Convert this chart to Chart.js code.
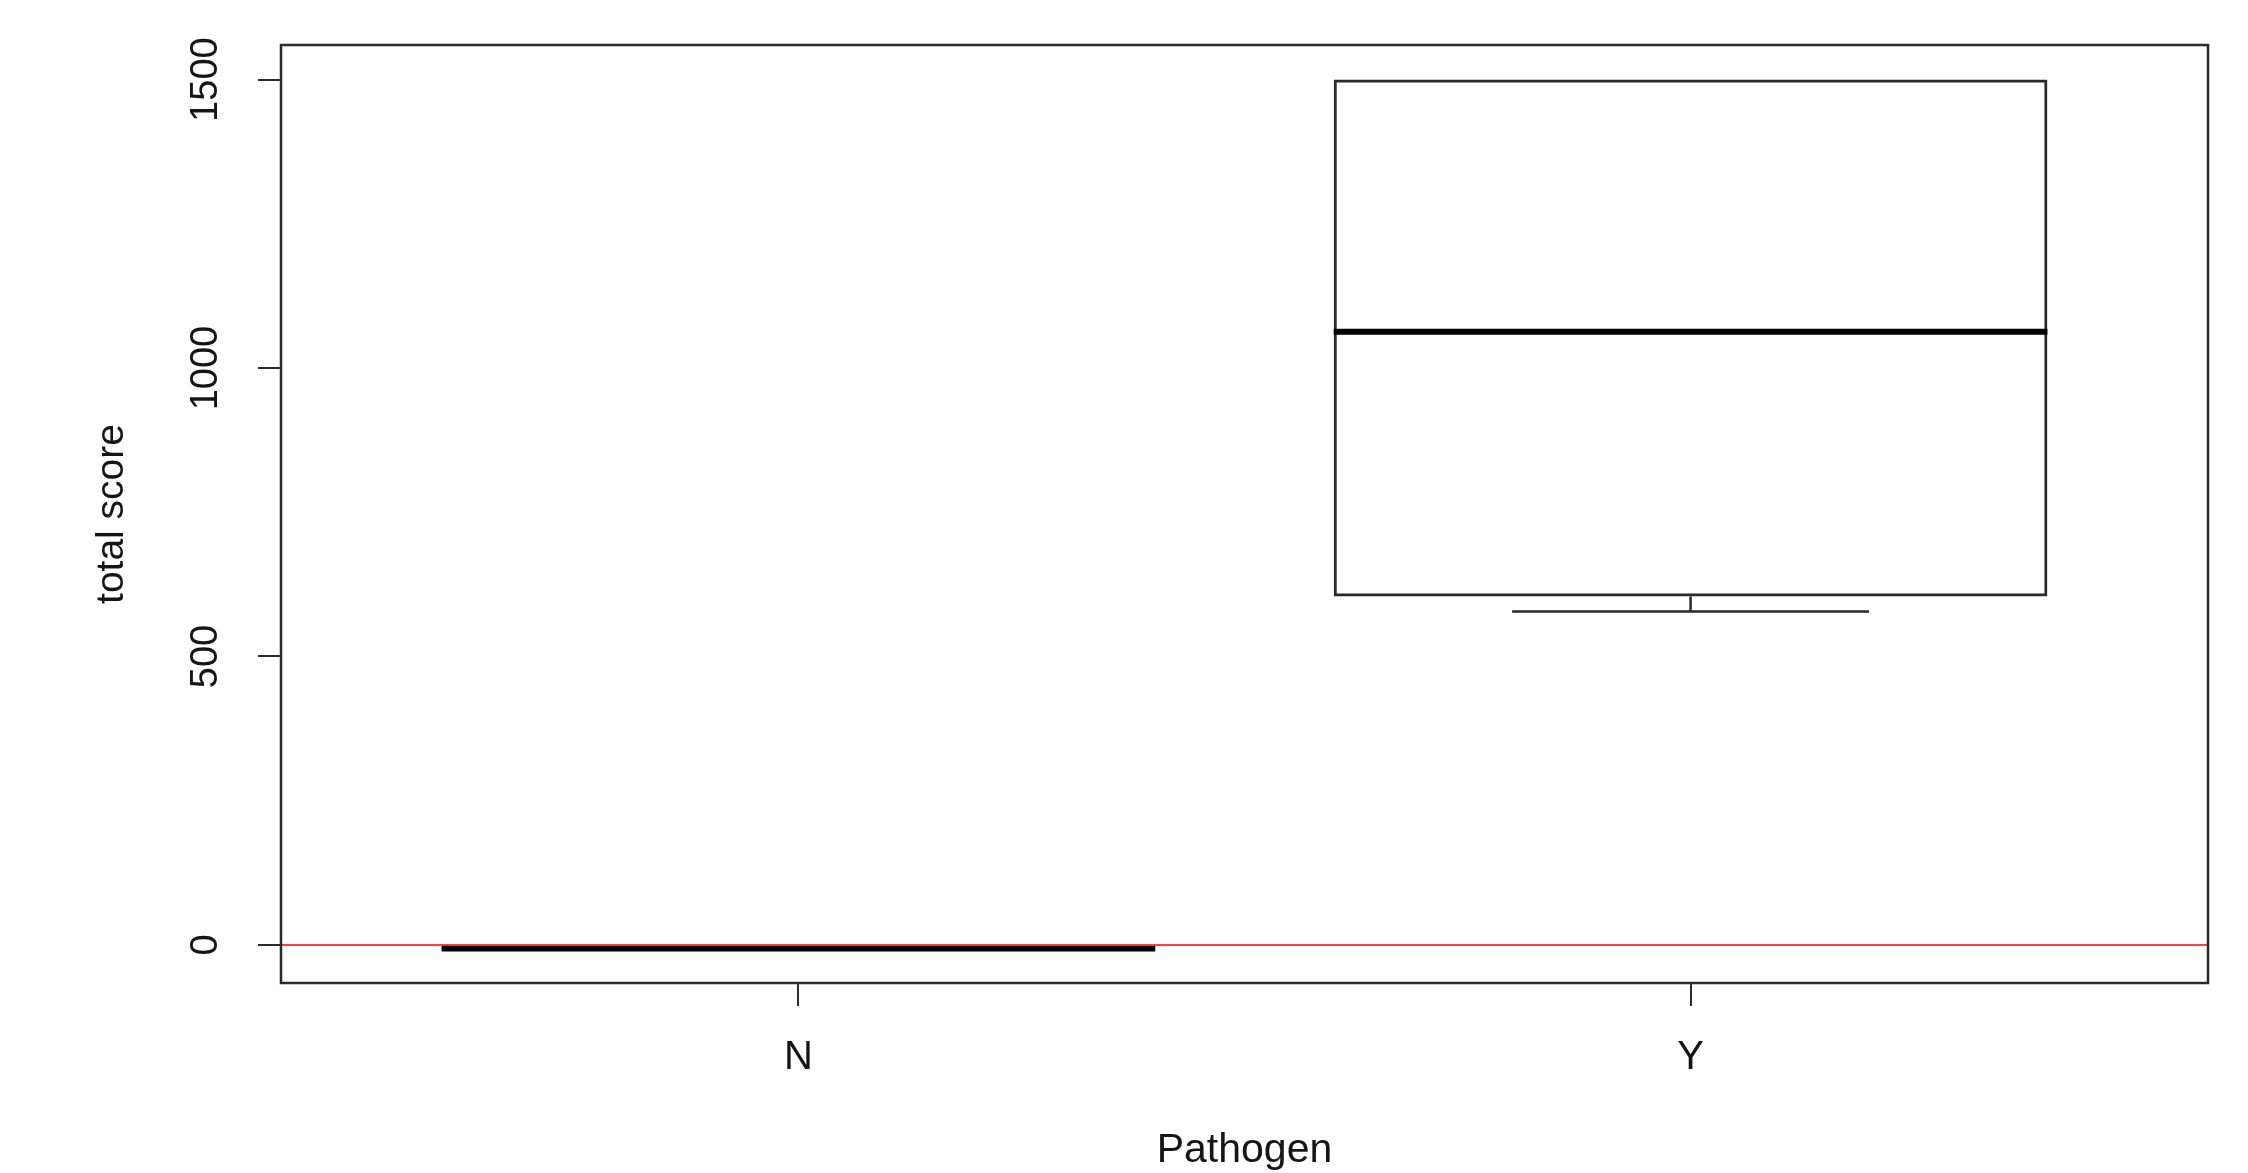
<!DOCTYPE html>
<html>
<head>
<meta charset="utf-8">
<title>total score by Pathogen</title>
<script src="https://cdn.jsdelivr.net/npm/chart.js@4.4.1/dist/chart.umd.min.js"></script>
<style>
  html, body { margin: 0; padding: 0; background: #fff; }
  #wrap { width: 2248px; height: 1173px; }
</style>
</head>
<body>
<div id="wrap"><canvas id="boxChart" width="2248" height="1173"></canvas></div>
<script>
// data
const categories = ["N", "Y"];
const whiskerLow = [-6, 578];
const q1 = [-6, 604];
const median = [-6, 1063];
const q3 = [-6, 1500];
const whiskerHigh = [-6, 1500];
const yTicks = [0, 500, 1000, 1500];
const refLineValue = 0;

const boxWidth = 0.8;
const capWidth = 0.4;
const fontFamily = '"Liberation Sans", Arial, sans-serif';
const lineColor = "#2a2a2a";
const textColor = "#151515";

// whiskers, medians, the red line at 0, the frame and the rotated y labels
const boxExtras = {
  id: "boxExtras",
  afterDatasetsDraw(chart) {
    const { ctx, scales: { x, y }, chartArea } = chart;
    ctx.save();
    ctx.lineCap = "butt";

    ctx.strokeStyle = lineColor;
    ctx.lineWidth = 2.5;
    categories.forEach((c, i) => {
      const cx = x.getPixelForValue(i + 1);
      const capL = x.getPixelForValue(i + 1 - capWidth / 2);
      const capR = x.getPixelForValue(i + 1 + capWidth / 2);
      [[whiskerLow[i], q1[i]], [whiskerHigh[i], q3[i]]].forEach(([w, q]) => {
        if (w === q) return;
        ctx.beginPath();
        ctx.moveTo(cx, y.getPixelForValue(q));
        ctx.lineTo(cx, y.getPixelForValue(w));
        ctx.moveTo(capL, y.getPixelForValue(w));
        ctx.lineTo(capR, y.getPixelForValue(w));
        ctx.stroke();
      });
    });

    ctx.strokeStyle = "#000";
    ctx.lineWidth = 6;
    categories.forEach((c, i) => {
      const py = y.getPixelForValue(median[i]);
      ctx.beginPath();
      ctx.moveTo(x.getPixelForValue(i + 1 - boxWidth / 2), py);
      ctx.lineTo(x.getPixelForValue(i + 1 + boxWidth / 2), py);
      ctx.stroke();
    });

    // abline(h = 0, col = "red")
    const ry = y.getPixelForValue(refLineValue);
    ctx.strokeStyle = "rgba(255, 30, 30, 0.85)";
    ctx.lineWidth = 2;
    ctx.beginPath();
    ctx.moveTo(chartArea.left, ry);
    ctx.lineTo(chartArea.right, ry);
    ctx.stroke();
    ctx.restore();
  },
  afterDraw(chart) {
    const { ctx, scales: { y }, chartArea } = chart;
    ctx.save();
    ctx.strokeStyle = lineColor;
    ctx.lineWidth = 2.5;
    ctx.strokeRect(chartArea.left, chartArea.top,
      chartArea.right - chartArea.left, chartArea.bottom - chartArea.top);

    ctx.fillStyle = textColor;
    ctx.font = "38px " + fontFamily;
    ctx.textAlign = "center";
    ctx.textBaseline = "middle";
    yTicks.forEach((v) => {
      ctx.save();
      ctx.translate(207, y.getPixelForValue(v));
      ctx.rotate(-Math.PI / 2);
      ctx.fillText(String(v), 0, 0);
      ctx.restore();
    });
    ctx.restore();
  }
};

const ctx = document.getElementById("boxChart");
new Chart(ctx, {
  type: "bar",
  data: {
    datasets: [{
      label: "total score",
      data: categories.map((c, i) => ({ x: i + 1, y: [q1[i], q3[i]] })),
      backgroundColor: "rgba(255,255,255,0)",
      borderColor: lineColor,
      borderWidth: 3,
      borderSkipped: false,
      categoryPercentage: 1,
      barPercentage: boxWidth
    }]
  },
  options: {
    responsive: false,
    animation: false,
    devicePixelRatio: 1,
    layout: { padding: { top: 45, right: 40, left: 0, bottom: 0 } },
    plugins: { legend: { display: false }, tooltip: { enabled: false } },
    scales: {
      x: {
        type: "linear",
        min: 0.42,
        max: 2.58,
        offset: false,
        afterBuildTicks: (scale) => { scale.ticks = categories.map((c, i) => ({ value: i + 1 })); },
        afterFit: (scale) => { scale.height = 190; },
        grid: { offset: false, drawOnChartArea: false, drawTicks: true, tickLength: 23, color: lineColor, lineWidth: 2 },
        border: { display: false },
        ticks: {
          padding: 28,
          color: textColor,
          font: { family: fontFamily, size: 40 },
          callback: (v) => categories[v - 1]
        },
        title: {
          display: true,
          text: "Pathogen",
          color: textColor,
          font: { family: fontFamily, size: 41, lineHeight: 1.1 },
          padding: { top: 0, bottom: 0 }
        }
      },
      y: {
        min: -66,
        max: 1560,
        afterBuildTicks: (scale) => { scale.ticks = yTicks.map((v) => ({ value: v })); },
        afterFit: (scale) => { scale.width = 281; },
        grid: { drawOnChartArea: false, drawTicks: true, tickLength: 23, color: lineColor, lineWidth: 2 },
        border: { display: false },
        ticks: { display: false },
        title: {
          display: true,
          text: "total score",
          color: textColor,
          font: { family: fontFamily, size: 39 },
          padding: { top: 89, bottom: 0 }
        }
      }
    }
  },
  plugins: [boxExtras]
});
</script>
</body>
</html>
